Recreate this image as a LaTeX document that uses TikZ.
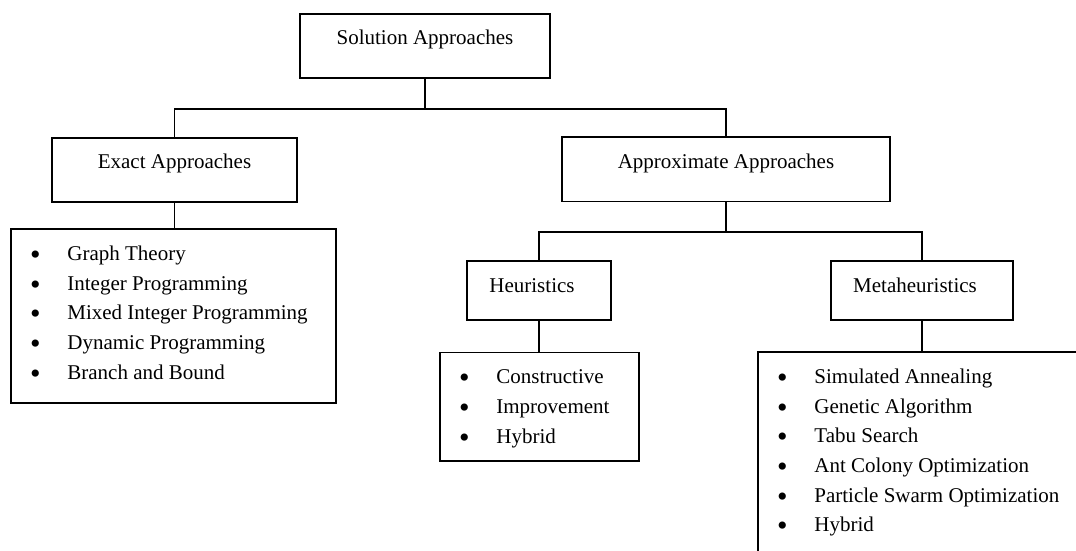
\documentclass[tikz,border=0pt]{standalone}
\usepackage{fontspec}
\setmainfont{Liberation Serif}
\usetikzlibrary{matrix}
\tikzstyle{headbox} = [draw=black, line width=.9pt, anchor=north, inner sep=0pt, text height=15.5pt, text depth=16.5pt, font=\fontsize{10.5}{14.85}\selectfont]
\tikzstyle{listbox} = [draw=black, line width=.9pt, anchor=north west, inner sep=0pt]
\tikzstyle{items} = [matrix of nodes, ampersand replacement=\&, anchor=north west, inner sep=0pt, row sep=0pt, column sep=0pt, nodes={anchor=base west, inner sep=0pt, text height=10pt, text depth=4.85pt, font=\fontsize{10.5}{14.85}\selectfont}, column 1/.style={nodes={text width=18.6pt}}]
\tikzstyle{link} = [draw=black, line width=.9pt]
\newcommand{\bu}{\raisebox{-2pt}{\fontsize{15}{15}\selectfont\textbullet}}

\begin{document}
\begin{tikzpicture}[x=.5pt, y=-.5pt]%
			\useasboundingbox (0,0) rectangle (1076,551);%
			% headings
			\node [headbox, minimum width=125pt] (sol) at (425,13) {Solution Approaches};%
			\node [headbox, minimum width=122.5pt] (exact) at (174.5,137) {Exact Approaches};%
			\node [headbox, minimum width=164pt] (approx) at (726,136.5) {Approximate Approaches};%
			\node [headbox, minimum width=72pt, text height=16pt, text depth=13.5pt] (heur) at (539,260) {Heuristics\hspace*{7pt}};%
			\node [headbox, minimum width=91pt, text height=16pt, text depth=13.5pt] (meta) at (922,260) {Metaheuristics\hspace*{7pt}};%
			% lists
			\node [listbox, minimum width=162.5pt, minimum height=87pt] (exlist) at (10,228) {};%
			\node [listbox, minimum width=99.5pt, minimum height=54.25pt] (heurlist) at (439,351.5) {};%
			\node [listbox, minimum width=170pt, minimum height=110pt] (metalist) at (757,351) {};%
			\matrix (exitems) at ([shift={(9.9pt,-6pt)}]exlist.north west) [items] {%
				\bu \& Graph Theory \\%
				\bu \& Integer Programming \\%
				\bu \& Mixed Integer Programming \\%
				\bu \& Dynamic Programming \\%
				\bu \& Branch and Bound \\%
			};%
			\matrix (heuritems) at ([shift={(9.9pt,-6pt)}]heurlist.north west) [items] {%
				\bu \& Constructive \\%
				\bu \& Improvement \\%
				\bu \& Hybrid \\%
			};%
			\matrix (metaitems) at ([shift={(9.9pt,-6pt)}]metalist.north west) [items] {%
				\bu \& Simulated Annealing \\%
				\bu \& Genetic Algorithm \\%
				\bu \& Tabu Search \\%
				\bu \& Ant Colony Optimization \\%
				\bu \& Particle Swarm Optimization \\%
				\bu \& Hybrid \\%
			};%
			% connectors
			\draw [link] (sol.south) -- ++(0,30) coordinate (solfork);%
			\draw [link] (exact.north) |- (solfork) -| (approx.north);%
			\draw [link] (approx.south) -- ++(0,29.5) coordinate (approxfork);%
			\draw [link] (heur.north) |- (approxfork) -| (meta.north);%
			\draw [link] (exact.south) -- (exact.south |- exlist.north);%
			\draw [link] (heur.south) -- (heur.south |- heurlist.north);%
			\draw [link] (meta.south) -- (meta.south |- metalist.north);%
		\end{tikzpicture}
\end{document}
